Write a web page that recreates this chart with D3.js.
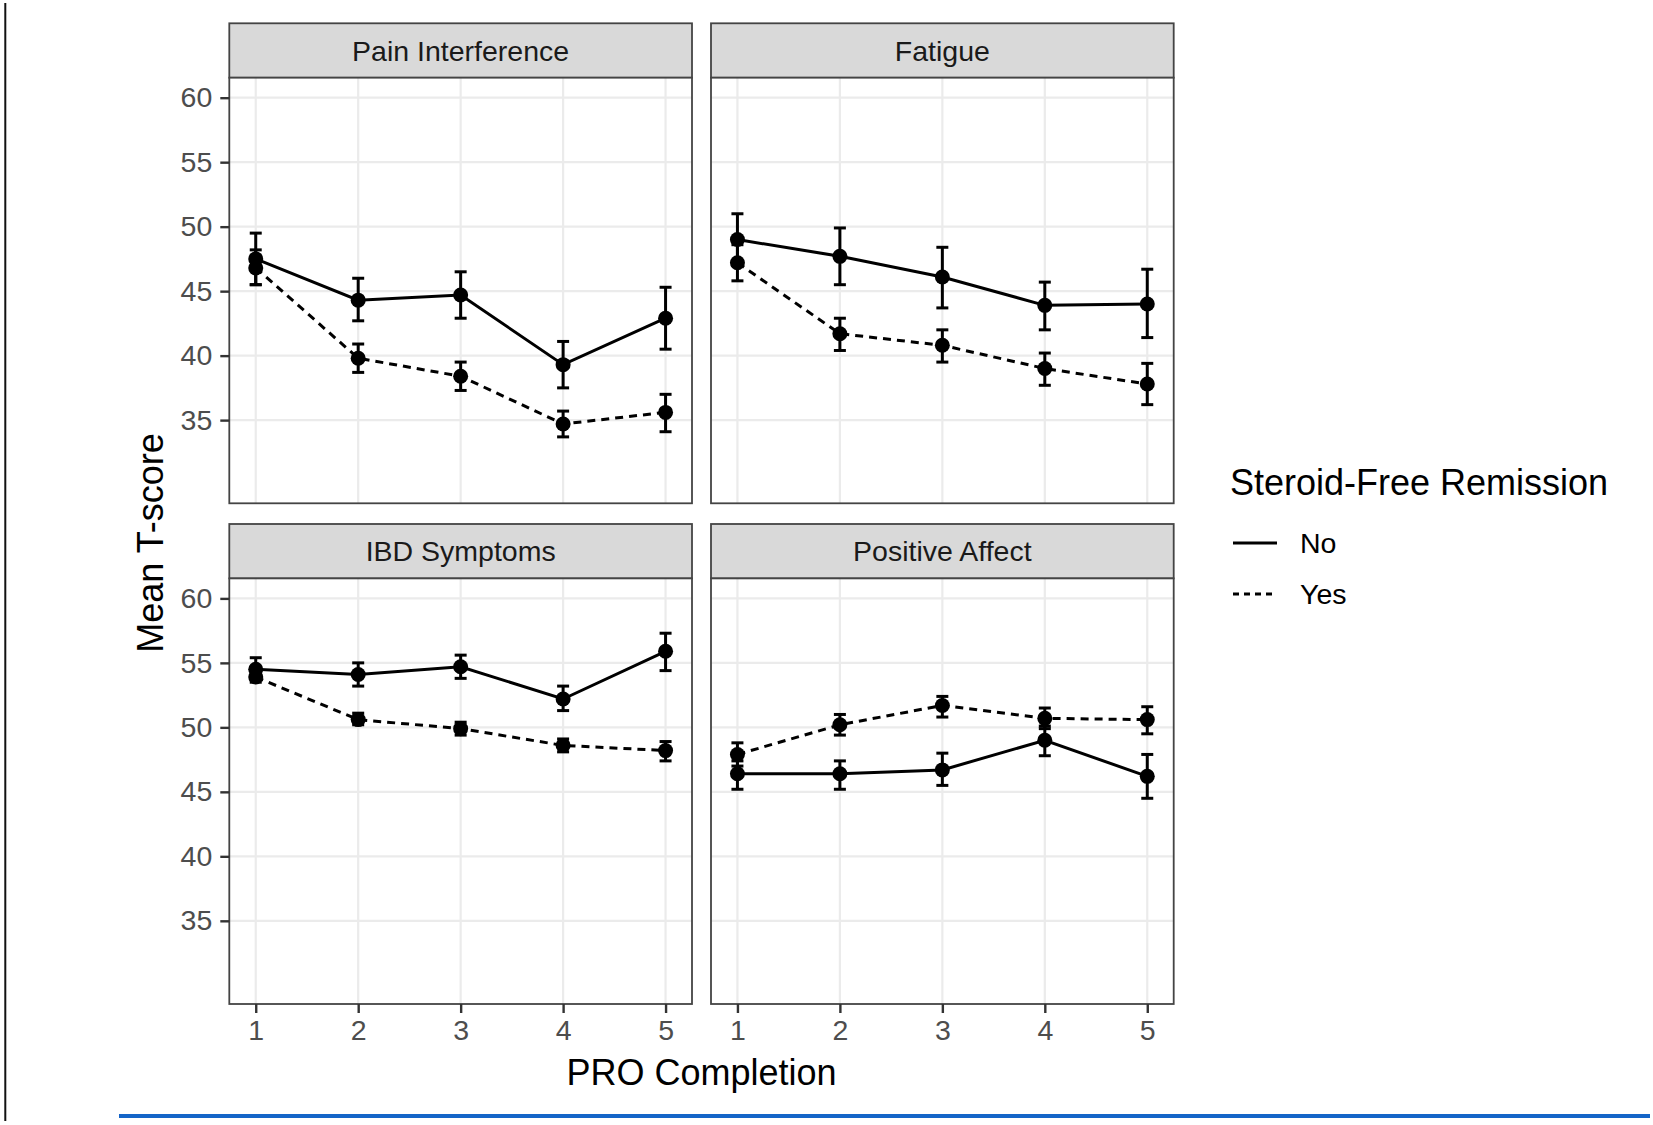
<!DOCTYPE html>
<html>
<head>
<meta charset="utf-8">
<script src="https://cdn.jsdelivr.net/npm/d3@7"></script>
<style>
  html, body { margin: 0; padding: 0; background: #fff; }
  svg { display: block; font-family: "Liberation Sans", Arial, sans-serif; }
</style>
</head>
<body>
<svg id="chart" width="1653" height="1125"></svg>
<script>
// ---------------- data ----------------
const panels = ["Pain Interference", "Fatigue", "IBD Symptoms", "Positive Affect"];
const completion = [1, 2, 3, 4, 5];
const xTicks = [1, 2, 3, 4, 5];
const yTicks = [35, 40, 45, 50, 55, 60];
const groups = ["No", "Yes"];
const legendTitle = "Steroid-Free Remission";
const xTitle = "PRO Completion";
const yTitle = "Mean T-score";

const painNo     = [47.5, 44.3, 44.7, 39.3, 42.9];
const painNoLo   = [45.5, 42.7, 42.9, 37.5, 40.5];
const painNoHi   = [49.5, 46.0, 46.5, 41.1, 45.3];
const painYes    = [46.8, 39.8, 38.4, 34.7, 35.6];
const painYesLo  = [45.5, 38.7, 37.3, 33.7, 34.1];
const painYesHi  = [48.2, 40.9, 39.5, 35.7, 37.0];

const fatNo      = [49.0, 47.7, 46.1, 43.9, 44.0];
const fatNoLo    = [47.0, 45.5, 43.7, 42.0, 41.4];
const fatNoHi    = [51.0, 49.9, 48.4, 45.7, 46.7];
const fatYes     = [47.2, 41.7, 40.8, 39.0, 37.8];
const fatYesLo   = [45.8, 40.4, 39.5, 37.7, 36.2];
const fatYesHi   = [48.6, 42.9, 42.0, 40.2, 39.4];

const ibdNo      = [54.5, 54.1, 54.7, 52.2, 55.9];
const ibdNoLo    = [53.7, 53.2, 53.8, 51.3, 54.4];
const ibdNoHi    = [55.4, 55.0, 55.6, 53.2, 57.3];
const ibdYes     = [53.9, 50.6, 49.9, 48.6, 48.2];
const ibdYesLo   = [53.5, 50.2, 49.4, 48.1, 47.4];
const ibdYesHi   = [54.4, 51.1, 50.4, 49.1, 48.9];

const paNo       = [46.4, 46.4, 46.7, 49.0, 46.2];
const paNoLo     = [45.2, 45.2, 45.5, 47.8, 44.5];
const paNoHi     = [47.4, 47.4, 48.0, 50.1, 47.9];
const paYes      = [47.9, 50.2, 51.7, 50.7, 50.6];
const paYesLo    = [47.0, 49.4, 50.8, 49.9, 49.5];
const paYesHi    = [48.8, 51.0, 52.4, 51.5, 51.6];

const seriesByPanel = [
  [[painNo, painNoLo, painNoHi], [painYes, painYesLo, painYesHi]],
  [[fatNo, fatNoLo, fatNoHi], [fatYes, fatYesLo, fatYesHi]],
  [[ibdNo, ibdNoLo, ibdNoHi], [ibdYes, ibdYesLo, ibdYesHi]],
  [[paNo, paNoLo, paNoHi], [paYes, paYesLo, paYesHi]]
];

// ---------------- layout ----------------
const FONT = '"Liberation Sans", Arial, sans-serif';
const colX = [229.3, 711];
const panelW = 462.7;
const stripTop = [23.3, 524];
const stripH = 54.4;
const panelH = 425.6;
const dashes = "8,6";

const svg = d3.select("#chart");
svg.append("rect").attr("width", 1653).attr("height", 1125).attr("fill", "#fff");

// decorative page lines
svg.append("line").attr("x1", 5.3).attr("x2", 5.3).attr("y1", 3).attr("y2", 1121)
  .attr("stroke", "#111").attr("stroke-width", 2);
svg.append("line").attr("x1", 119).attr("x2", 1650).attr("y1", 1116).attr("y2", 1116)
  .attr("stroke", "#1565c8").attr("stroke-width", 4);

const x = d3.scaleLinear().domain([0.742, 5.258]).range([0, panelW]);
const y = d3.scaleLinear().domain([28.55, 61.55]).range([panelH, 0]);

const lineGen = d3.line().x((d) => x(d.x)).y((d) => y(d.y));

panels.forEach((name, i) => {
  const col = i % 2, row = Math.floor(i / 2);
  const px = colX[col];
  const sy = stripTop[row];
  const py = sy + stripH;

  // strip
  svg.append("rect").attr("x", px).attr("y", sy).attr("width", panelW).attr("height", stripH)
    .attr("fill", "#d9d9d9").attr("stroke", "#444").attr("stroke-width", 1.8);
  svg.append("text").attr("x", px + panelW / 2).attr("y", sy + stripH / 2)
    .attr("text-anchor", "middle").attr("dominant-baseline", "central")
    .attr("font-family", FONT).attr("font-size", 28.5).attr("fill", "#1a1a1a").text(name);

  const g = svg.append("g").attr("transform", `translate(${px},${py})`);
  g.append("rect").attr("width", panelW).attr("height", panelH).attr("fill", "#fff");

  // grid
  g.selectAll(".gy").data(yTicks).join("line")
    .attr("x1", 0).attr("x2", panelW).attr("y1", (d) => y(d)).attr("y2", (d) => y(d))
    .attr("stroke", "#ebebeb").attr("stroke-width", 2.2);
  g.selectAll(".gx").data(xTicks).join("line")
    .attr("y1", 0).attr("y2", panelH).attr("x1", (d) => x(d)).attr("x2", (d) => x(d))
    .attr("stroke", "#ebebeb").attr("stroke-width", 2.2);

  // series
  seriesByPanel[i].forEach((s, gi) => {
    const [mean, lo, hi] = s;
    const pts = completion.map((c, k) => ({ x: c, y: mean[k], lo: lo[k], hi: hi[k] }));
    g.append("path").datum(pts).attr("d", lineGen).attr("fill", "none")
      .attr("stroke", "#000").attr("stroke-width", 3)
      .attr("stroke-dasharray", gi === 1 ? dashes : null);
    const eb = g.append("g");
    pts.forEach((p) => {
      eb.append("line").attr("x1", x(p.x)).attr("x2", x(p.x)).attr("y1", y(p.lo)).attr("y2", y(p.hi))
        .attr("stroke", "#000").attr("stroke-width", 3);
      [p.lo, p.hi].forEach((v) => {
        eb.append("line").attr("x1", x(p.x) - 6).attr("x2", x(p.x) + 6).attr("y1", y(v)).attr("y2", y(v))
          .attr("stroke", "#000").attr("stroke-width", 3);
      });
    });
    g.selectAll(null).data(pts).join("circle")
      .attr("cx", (d) => x(d.x)).attr("cy", (d) => y(d.y)).attr("r", 7.5).attr("fill", "#000");
  });

  // border
  g.append("rect").attr("width", panelW).attr("height", panelH).attr("fill", "none")
    .attr("stroke", "#444").attr("stroke-width", 1.8);

  // y axis on left column
  if (col === 0) {
    const ya = g.append("g").call(d3.axisLeft(y).tickValues(yTicks).tickSize(9).tickPadding(8));
    ya.select(".domain").remove();
    ya.selectAll("line").attr("stroke", "#333").attr("stroke-width", 2.4);
    ya.selectAll("text").attr("font-family", FONT).attr("font-size", 28.5).attr("fill", "#4d4d4d");
  }
  // x axis on bottom row
  if (row === 1) {
    const xa = g.append("g").attr("transform", `translate(0,${panelH})`)
      .call(d3.axisBottom(x).tickValues(xTicks).tickFormat(d3.format("d")).tickSize(9).tickPadding(7));
    xa.select(".domain").remove();
    xa.selectAll("line").attr("stroke", "#333").attr("stroke-width", 2.4);
    xa.selectAll("text").attr("font-family", FONT).attr("font-size", 28.5).attr("fill", "#4d4d4d");
  }
});

// axis titles
svg.append("text").attr("x", (colX[0] + colX[1] + panelW) / 2).attr("y", 1072)
  .attr("text-anchor", "middle").attr("dominant-baseline", "central")
  .attr("font-family", FONT).attr("font-size", 36).attr("fill", "#000").text(xTitle);
svg.append("text").attr("transform", "translate(150,543) rotate(-90)")
  .attr("text-anchor", "middle").attr("dominant-baseline", "central")
  .attr("font-family", FONT).attr("font-size", 36).attr("fill", "#000").text(yTitle);

// legend
const lg = svg.append("g");
lg.append("text").attr("x", 1230).attr("y", 482).attr("dominant-baseline", "central")
  .attr("font-family", FONT).attr("font-size", 36).attr("fill", "#000").text(legendTitle);
const legY = d3.scalePoint().domain(groups).range([543, 594]);
groups.forEach((gname, gi) => {
  lg.append("line").attr("x1", 1233).attr("x2", 1277).attr("y1", legY(gname)).attr("y2", legY(gname))
    .attr("stroke", "#000").attr("stroke-width", 2.8)
    .attr("stroke-dasharray", gi === 1 ? "6,5" : null);
  lg.append("text").attr("x", 1300).attr("y", legY(gname)).attr("dominant-baseline", "central")
    .attr("font-family", FONT).attr("font-size", 28.5).attr("fill", "#000").text(gname);
});
</script>
</body>
</html>
